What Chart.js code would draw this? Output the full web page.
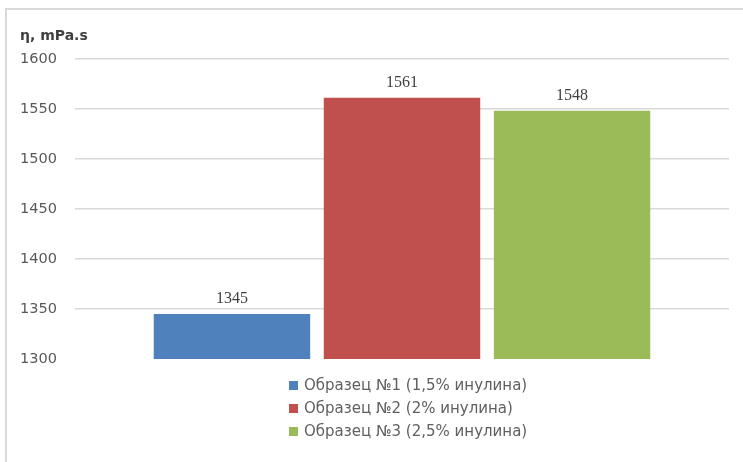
<!DOCTYPE html>
<html>
<head>
<meta charset="utf-8">
<script src="https://cdn.jsdelivr.net/npm/chart.js@4"></script>
<style>
  body { margin: 0; background: #fff; overflow: hidden; }
  #wrap { position: relative; width: 743px; height: 462px; }
  #chart { position: absolute; left: 0; top: 0; }
  #legend { position: absolute; left: 289px; top: 375px; font-family: 'DejaVu Sans', sans-serif;
            font-size: 15px; color: #5f5f5f; }
  #legend div { height: 23px; line-height: 20px; white-space: nowrap; }
  #legend span { display: inline-block; width: 9px; height: 9px; margin-right: 6px; }
</style>
</head>
<body>
<div id="wrap">
  <canvas id="chart" width="743" height="462"></canvas>
  <div id="legend"></div>
</div>
<script>
const seriesNames = ['Образец №1 (1,5% инулина)', 'Образец №2 (2% инулина)', 'Образец №3 (2,5% инулина)'];
const viscosity = [1345, 1561, 1548];
const colors = ['#4F81BD', '#C0504D', '#9BBB59'];
const yTicks = [1300, 1350, 1400, 1450, 1500, 1550, 1600];

// light frame along the left and top edges
const frame = {
    id: 'frame',
    beforeDraw(chart) {
        const ctx = chart.ctx;
        ctx.save();
        ctx.strokeStyle = '#d9d9d9';
        ctx.lineWidth = 2;
        ctx.beginPath();
        ctx.moveTo(6, chart.height);
        ctx.lineTo(6, 9);
        ctx.lineTo(chart.width, 9);
        ctx.stroke();
        ctx.restore();
    }
};

// value labels above each bar
const valueLabels = {
    id: 'valueLabels',
    afterDatasetsDraw(chart) {
        const ctx = chart.ctx;
        ctx.save();
        ctx.font = '16px "Liberation Serif", serif';
        ctx.fillStyle = '#404040';
        ctx.textAlign = 'center';
        ctx.textBaseline = 'bottom';
        chart.data.datasets.forEach((ds, i) => {
            chart.getDatasetMeta(i).data.forEach((bar, j) => {
                ctx.fillText(ds.data[j], bar.x, bar.y - 7);
            });
        });
        ctx.restore();
    }
};

const chart = new Chart(document.getElementById('chart'), {
    type: 'bar',
    data: {
        labels: [''],
        datasets: seriesNames.map((name, i) => ({
            label: name,
            data: [viscosity[i]],
            backgroundColor: colors[i],
            categoryPercentage: 0.78,
            barPercentage: 0.92
        }))
    },
    options: {
        responsive: false,
        animation: false,
        layout: {
            padding: { left: 20, right: 14, top: 28, bottom: 103 }
        },
        plugins: {
            legend: { display: false },
            tooltip: { enabled: false },
            title: {
                display: true,
                text: 'η, mPa.s',
                align: 'start',
                color: '#404040',
                font: { family: 'DejaVu Sans', size: 14, weight: 'bold' },
                padding: { top: 0, bottom: 14 }
            }
        },
        scales: {
            x: { display: false },
            y: {
                min: yTicks[0],
                max: yTicks[yTicks.length - 1],
                afterBuildTicks: (scale) => { scale.ticks = yTicks.map(v => ({ value: v })); },
                afterFit: (scale) => { scale.width = 55; },
                ticks: {
                    crossAlign: 'far',
                    color: '#595959',
                    font: { family: 'DejaVu Sans', size: 14.5 },
                    callback: (v) => String(v)
                },
                grid: {
                    drawTicks: false,
                    lineWidth: 1.5,
                    color: (c) => c.tick && c.tick.value === 1300 ? 'rgba(0,0,0,0)' : '#d9d9d9'
                },
                border: { display: false }
            }
        }
    },
    plugins: [frame, valueLabels]
});

// legend list under the plot
document.getElementById('legend').innerHTML = chart.data.datasets.map(ds =>
    `<div><span style="background:${ds.backgroundColor}"></span>${ds.label}</div>`).join('');
</script>
</body>
</html>
